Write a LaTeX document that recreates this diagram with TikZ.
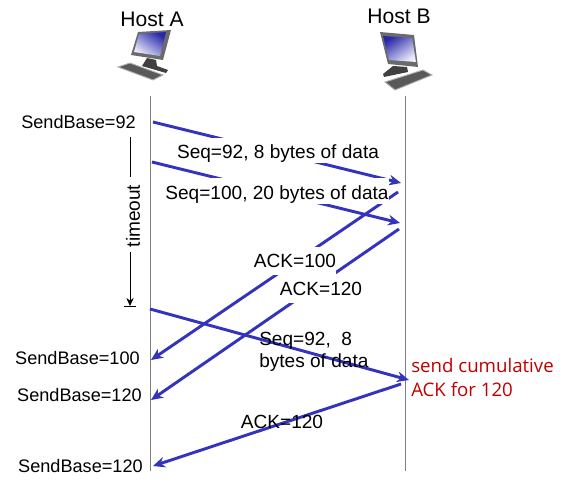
\documentclass[tikz,border=0pt]{standalone}
\usepackage{fontspec}
\setmainfont{Liberation Sans}
\newfontfamily\notefont{Open Sans}
\usetikzlibrary{arrows.meta, positioning, shadings}

\definecolor{arrowblue}{RGB}{51,51,190}
\definecolor{notered}{RGB}{192,0,0}
\definecolor{screenblue}{RGB}{40,40,170}
\definecolor{screenpale}{RGB}{235,235,250}

\newcommand{\seqstrut}{\rule[-3.5pt]{0pt}{19pt}}
\newcommand{\ackstrut}{\rule[-6pt]{0pt}{21pt}}

\begin{document}
\begin{tikzpicture}[
    x=0.75pt, y=-0.75pt,
    every node/.style={font=\fontsize{14.3}{16.5}\selectfont, inner sep=0pt},
    hostlabel/.style={font=\fontsize{15.8}{18}\selectfont},
    baselabel/.style={font=\fontsize{13.6}{16.5}\selectfont, anchor=east},
    timeline/.style={draw=black!50, line width=0.6pt},
    segment/.style={draw=arrowblue, line width=2.2pt, -{Stealth[length=9pt,width=8pt]}},
    whitebox/.style={fill=white},
    monitor/.style={fill=black!58},
    keyboard/.style={fill=black!65, draw=black!30, line width=0.7pt}
]
\useasboundingbox (0,0) rectangle (574,499);

% Hosts
\node[hostlabel] (hostA) at (152,19) {Host A};
\node[hostlabel] (hostB) at (399,16) {Host B};

% Computer icons
\fill[monitor] (138,32) -- (171,30) -- (163,60) -- (131,55) -- cycle;
\shade[bottom color=screenpale, top color=screenblue, shading angle=-35]
    (139,34) -- (166,32) -- (160,56) -- (134,52) -- cycle;
\fill[black!75] (147,58) -- (156,60) -- (157,66) -- (168,70) -- (166,73) -- (142,66) -- cycle;
\fill[keyboard] (118,67) -- (130,63) -- (163,75) -- (153,80) -- cycle;

\fill[monitor] (380,32) -- (414,35) -- (418,67) -- (388,64) -- cycle;
\shade[bottom color=screenpale, top color=screenblue, shading angle=35]
    (383,36) -- (412,38) -- (416,62) -- (389,60) -- cycle;
\fill[black!75] (393,66) -- (407,67) -- (408,72) -- (384,77) -- (383,74) -- cycle;
\fill[keyboard] (385,82) -- (423,70) -- (432,75) -- (395,90) -- cycle;

% Timelines
\coordinate (topA) at (150,96);
\coordinate (botA) at (150,471);
\coordinate (topB) at (405,96);
\coordinate (botB) at (405,471);
\draw[timeline] (topA) -- (botA);
\draw[timeline] (topB) -- (botB);

% Segment end points
\coordinate (s1) at (153,122);
\coordinate (r1) at (401,183);
\coordinate (s2) at (152,162);
\coordinate (r2) at (400,223);
\coordinate (s3) at (398,192);
\coordinate (r3) at (151,360);
\coordinate (s4) at (399,229);
\coordinate (r4) at (151,400);
\coordinate (s5) at (150,309);
\coordinate (r5) at (409,380);
\coordinate (s6) at (401,384);
\coordinate (r6) at (153,466);

% Segments
\draw[segment] (s1) -- (r1);
\draw[segment] (s2) -- (r2);
\draw[segment] (s3) -- (r3);
\draw[segment] (s4) -- (r4);
\draw[segment] (s5) -- (r5);
\draw[segment] (s6) -- (r6);

% Labels on the segments
\node[whitebox] (seqA) at (278,150.5) {\seqstrut Seq=92, 8 bytes of data};
\node[whitebox] (seqB) at (277,191) {\seqstrut Seq=100, 20 bytes of data};
\node[whitebox] (ackA) at (295,261) {\ackstrut ACK=100};
\node[whitebox] (ackB) at (321,289) {\ackstrut ACK=120};
\node[align=left, anchor=north west] (seqC) at (259,332) {Seq=92,~~8\\bytes of data};
\node (ackC) at (282,422) {ACK=120};

% Sender state
\node[baselabel] (baseA) at (136,122) {SendBase=92};
\node[baselabel] (baseB) at (140,358) {SendBase=100};
\node[baselabel] (baseC) at (142,395) {SendBase=120};
\node[baselabel] (baseD) at (143,466) {SendBase=120};

% Timeout
\node[rotate=90] (timeout) at (133,216) {timeout};
\coordinate (timerTop) at (130,137);
\coordinate (timerGapA) at (130,177);
\coordinate (timerGapB) at (130,252);
\coordinate (timerEnd) at (130,306);
\coordinate (barL) at (124,306);
\coordinate (barR) at (136,306);
\draw[line width=0.6pt] (timerTop) -- (timerGapA);
\draw[line width=0.6pt, -{Stealth[length=6pt,width=5.5pt]}] (timerGapB) -- (timerEnd);
\draw[line width=0.6pt] (barL) -- (barR);

% Receiver note
\node[align=left, anchor=north west, text=notered,
      font=\notefont\fontsize{14}{18}\selectfont] (note) at (411,358)
    {send cumulative\\ACK for 120};

\end{tikzpicture}
\end{document}
